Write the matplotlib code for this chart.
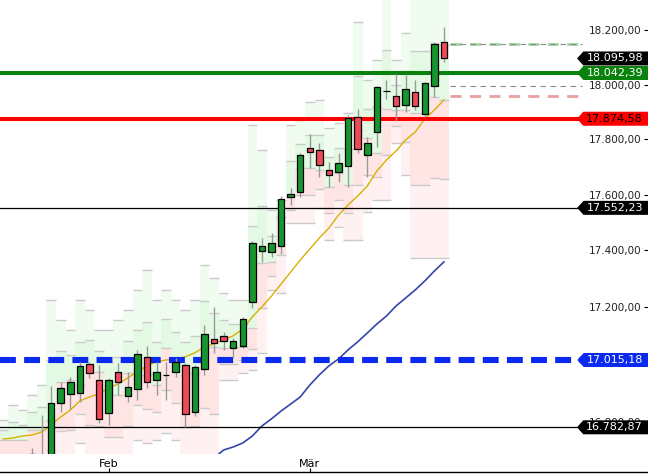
import numpy as np
import pandas as pd
import matplotlib
matplotlib.use("Agg")
import matplotlib.pyplot as plt
from matplotlib.path import Path
from matplotlib.patches import Rectangle
from matplotlib.ticker import FixedLocator, FuncFormatter, NullLocator

# ---------------- data ----------------
dates = pd.bdate_range("2024-01-17", "2024-03-21")
nan = np.nan

opens = [nan, nan, nan, 16650, 16680, 16640, 16867, 16898, 16902, 17002, 16946, 16833,
         16974, 16891, 16915, 17026, 16946, 16964, 16974, 16998, 16836, 16985, 17089,
         17099, 17058, 17065, 17219, 17398, 17395, 17416, 17592, 17610, 17768, 17761,
         17689, 17682, 17703, 17881, 17743, 17826, 17976, 17958, 17925, 17973, 17892,
         17995, 18157]
highs = [nan, nan, nan, 16713, 16826, 16926, 16940, 16957, 17009, 17009, 16998, 16953,
         17005, 16974, 17051, 17065, 17009, 17009, 17023, 17005, 16998, 17137, 17201,
         17113, 17092, 17166, 17434, 17445, 17463, 17595, 17624, 17750, 17819, 17786,
         17718, 17750, 17888, 17910, 17808, 17995, 18017, 18039, 18035, 18017, 18009,
         18157, 18213]
lows = [nan, nan, nan, 16600, 16600, 16620, 16835, 16846, 16870, 16953, 16798, 16791,
        16895, 16870, 16877, 16919, 16895, 16877, 16957, 16784, 16822, 16964, 17040,
        17051, 17026, 17058, 17197, 17359, 17377, 17388, 17563, 17592, 17696, 17664,
        17628, 17646, 17628, 17750, 17664, 17772, 17947, 17866, 17899, 17907, 17881,
        17954, 18083]
closes = [nan, nan, nan, 16690, 16630, 16867, 16919, 16940, 16995, 16971, 16812, 16946,
          16940, 16922, 17037, 16940, 16974, 16964, 17009, 16829, 16992, 17106, 17075,
          17082, 17082, 17159, 17427, 17416, 17427, 17585, 17602, 17743, 17754, 17707,
          17671, 17714, 17877, 17765, 17786, 17991, 17976, 17921, 17984, 17921, 18006,
          18150, 18095.98]

ma_fast = [16742.8, 16746.3, 16753.0, 16756.5, 16766.8, 16791.4, 16818.2, 16842.3, 16873.3,
           16887.1, 16898.0, 16918.8, 16932.0, 16953.4, 16974.2, 16995.0, 17008.9, 17015.2,
           17018.7, 17026.2, 17040.1, 17060.4, 17070.9, 17085.4, 17099.4, 17123.2, 17165.8,
           17200.9, 17239.0, 17281.3, 17323.7, 17366.2, 17405.3, 17444.7, 17480.1, 17526.6,
           17563.0, 17594.8, 17630.7, 17684.8, 17724.6, 17757.2, 17797.2, 17826.3, 17873.7,
           17906.6, 17943.2]
ma_slow = [nan] * 22 + [16678.0, 16705.3, 16715.5, 16729.2, 16753.0, 16787.4, 16812.0,
                        16838.8, 16862.9, 16887.1, 16928.5, 16963.8, 16995.0, 17018.7,
                        17050.6, 17078.4, 17109.3, 17140.8, 17168.8, 17203.9, 17232.1,
                        17260.3, 17292.0, 17327.3, 17359.4]

band_top = [16808, 16860, 16842, 16895, 16929, 17225, 17155, 17120, 17225, 17190, 17120,
            17120, 17155, 17190, 17260, 17330, 17225, 17260, 17225, 17190, 17225, 17349,
            17302, 17250, 17225, 17225, 17852, 17761, 17545, 17580, 17852, 17870, 17936,
            17943, 17841, 17859, 17896, 18231, 18017, 18090, 18351, 18090, 18190, 18351,
            18351, 18351, 18351]
band_mid = [16739, 16739, 16739, 16774, 16774, 16808, 16940, 16946, 16929, 16981, 16974,
            16895, 16895, 16971, 16981, 16964, 16929, 17058, 16998, 16964, 16971, 17096,
            17060, 17058, 17060, 17060, 17127, 17356, 17359, 17520, 17592, 17696, 17696,
            17689, 17628, 17678, 17634, 17834, 17804, 17750, 17910, 17907, 17907, 17896,
            17896, 17954, 17943]
band_bot = [16603, 16603, 16603, 16603, 16603, 16603, 16603, 16603, 16729, 16603, 16603,
            16603, 16603, 16603, 16739, 16729, 16739, 16763, 16739, 16603, 16603, 16603,
            16603, 16946, 16946, 16971, 16981, 17040, 17260, 17250, 17498, 17498, 17498,
            17552, 17437, 17484, 17437, 17437, 17537, 17580, 17580, 17786, 17671, 17373,
            17373, 17373, 17373]

month_names = {2: "Feb", 3: "Mär"}
y_ticks = [16800, 17200, 17400, 17600, 17800, 18000, 18200]

support_green = 18042.39
support_red = 17874.58
level_black_hi = 17552.23
level_blue = 17015.18
level_black_lo = 16782.87
last_price = 18095.98
ref_dash = [(18151.0, "#9fd89f", "#8a8a8a"), (17994.6, None, "#8a8a8a"), (17957.8, "#e8a0a0", None)]

# ---------------- helpers ----------------
def de(v):
    s = f"{v:,.2f}"
    return s.replace(",", "X").replace(".", ",").replace("X", ".")


def tag_box(x0, y0, width, height, mutation_size):
    padx = 3.0
    pady = 2.0
    x0 -= padx
    y0 -= pady
    width += padx + 12
    height += 2 * pady
    tip = height * 0.45
    verts = [(x0, y0), (x0 + width, y0), (x0 + width, y0 + height), (x0, y0 + height),
             (x0 - tip, y0 + height / 2), (x0, y0)]
    return Path(verts, [Path.MOVETO] + [Path.LINETO] * 4 + [Path.CLOSEPOLY])


# ---------------- figure ----------------
W, H = 648, 474
fig = plt.figure(figsize=(W / 100, H / 100), dpi=100)
fig.patch.set_facecolor("white")
ax = fig.add_axes([0, 20 / H, 1, 454 / H])
ax.set_yscale("log")
x = np.arange(len(dates))
x_left, x_right = -0.34, 67.3
ax.set_xlim(x_left, x_right)
ax.set_ylim(16691.6, 18313.4)
for s in ax.spines.values():
    s.set_visible(False)

# bands
for i in range(len(dates)):
    t, m, b = band_top[i], band_mid[i], band_bot[i]
    tm = np.sqrt(t * m)
    bm = np.sqrt(b * m)
    ax.add_patch(Rectangle((i - 0.5, m), 1.0, t - m, facecolor="#f0fcf0", edgecolor="none", zorder=1))
    ax.add_patch(Rectangle((i - 0.5, m), 1.0, tm - m, facecolor="#e3f9e3", edgecolor="none", zorder=1.05))
    ax.add_patch(Rectangle((i - 0.5, b), 1.0, m - b, facecolor="#fff1f1", edgecolor="none", zorder=1))
    ax.add_patch(Rectangle((i - 0.5, bm), 1.0, m - bm, facecolor="#ffe4e4", edgecolor="none", zorder=1.05))
    for lv in (t, tm, m, bm, b):
        ax.hlines(lv, i - 0.5, i + 0.5, color="#cacaca", lw=1.0, zorder=1.2)

# moving averages
ax.plot(x, ma_fast, color="#d8b000", lw=1.0, zorder=2)
ax.plot(x, ma_slow, color="#3346a8", lw=1.2, zorder=2)

# horizontal levels
ax.axhline(level_black_hi, color="black", lw=0.9, zorder=2.2)
ax.axhline(level_black_lo, color="black", lw=0.9, zorder=2.2)
ax.axhline(level_blue, color="#0a2af0", lw=4.4, dashes=(2.6, 1.35), zorder=2.3)
ax.axhline(support_green, color="#08820c", lw=2.9, zorder=2.3)
ax.axhline(support_red, color="#ff0000", lw=2.9, zorder=2.3)
for lv, c1, c2 in ref_dash:
    if c1:
        ax.axhline(lv, xmin=450 / W, xmax=582 / W, color=c1, lw=2.0, dashes=(4, 3), zorder=2.1)
    if c2:
        ax.axhline(lv, xmin=450 / W, xmax=582 / W, color=c2, lw=0.8, dashes=(5, 4), zorder=2.15)

# candles
for i in range(len(dates)):
    o, h, l, c = opens[i], highs[i], lows[i], closes[i]
    if np.isnan(o):
        continue
    ax.vlines(i, l, h, color="#999999", lw=1.0, zorder=3)
    col = "#17962f" if c >= o else "#f04a58"
    ax.add_patch(Rectangle((i - 0.34, min(o, c)), 0.68, abs(c - o), facecolor=col,
                           edgecolor="black", lw=0.9, zorder=3.5))

# y axis on the right, inside
ax.yaxis.set_major_locator(FixedLocator(y_ticks))
ax.yaxis.set_minor_locator(NullLocator())
ax.yaxis.set_major_formatter(FuncFormatter(lambda v, p: de(v)))
ax.yaxis.tick_right()
ax.tick_params(axis="y", which="major", direction="in", length=3, width=0.8, pad=-5,
               labelsize=7.5, labelcolor="#222222")
for tk in ax.yaxis.get_major_ticks():
    tk.label2.set_horizontalalignment("right")
ax.tick_params(axis="x", bottom=False, labelbottom=False)

# price tags
tags = [(last_price, "black", "white"), (support_green, "#08820c", "white"),
        (support_red, "#ff0000", "black"), (level_black_hi, "black", "white"),
        (level_blue, "#0a2af0", "white"), (level_black_lo, "black", "white")]
for v, fc, tc in tags:
    ax.annotate(de(v), xy=(1, v), xycoords=("axes fraction", "data"), xytext=(-5, 0),
                textcoords="offset pixels", ha="right", va="center", color=tc, fontsize=8,
                annotation_clip=False, zorder=6,
                bbox=dict(boxstyle=tag_box, fc=fc, ec="none"))

# date axis
ax2 = fig.add_axes([0, 2 / H, 1, 18 / H])
ax2.set_xlim(x_left, x_right)
ax2.set_yticks([])
for k, s in ax2.spines.items():
    s.set_visible(k == "bottom")
ax2.spines["bottom"].set_linewidth(1.0)
ax2.patch.set_alpha(0)
months = dates.month
pos = [i for i in range(1, len(dates)) if months[i] != months[i - 1]]
ax2.set_xticks(pos)
ax2.set_xticklabels([month_names[months[i]] for i in pos])
ax2.tick_params(axis="x", direction="in", length=3, width=0.8, pad=-9.5, labelsize=8)

fig.savefig("out.png", dpi=100)
